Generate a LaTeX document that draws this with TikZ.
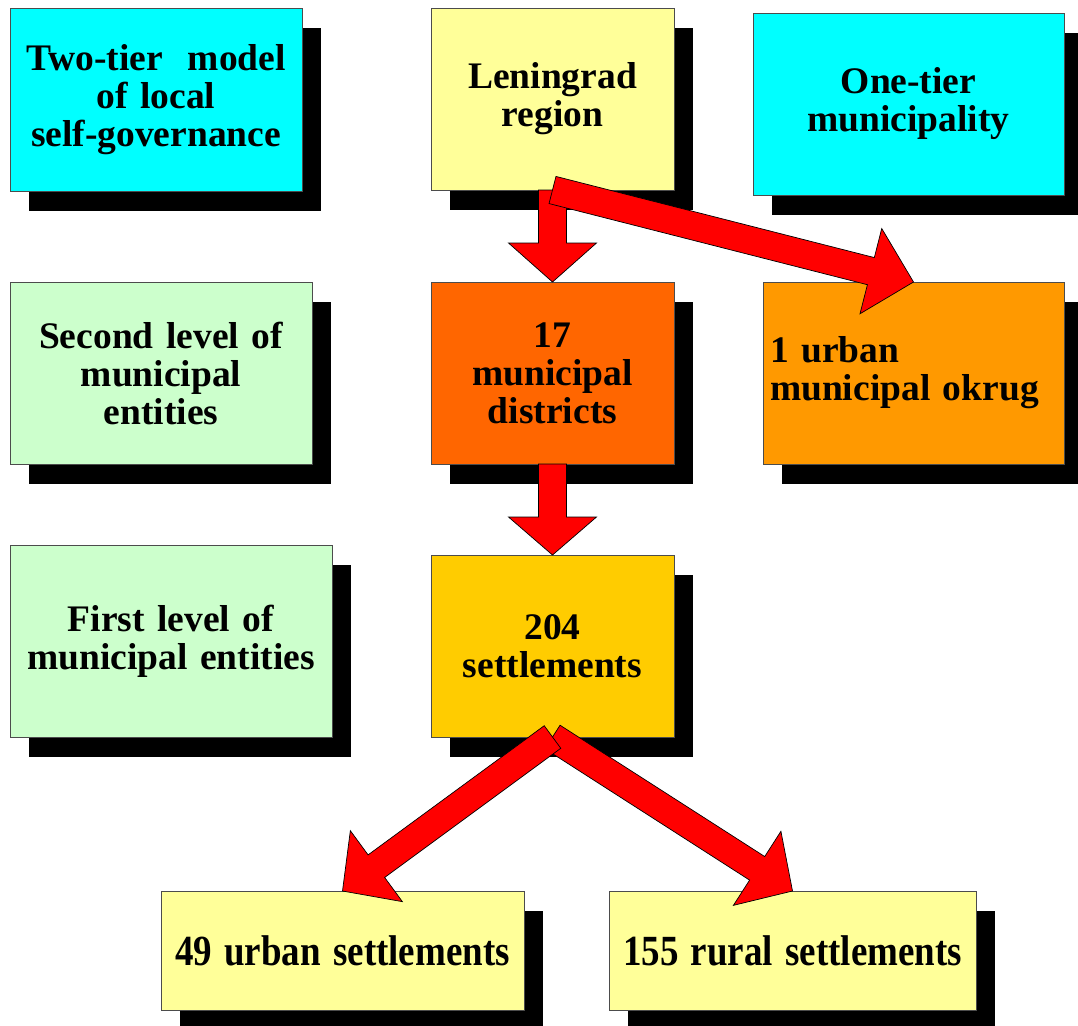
\documentclass[tikz,border=0pt]{standalone}
\usepackage{fontspec}
\setmainfont{Liberation Serif}
\usepackage{graphicx}
\usetikzlibrary{calc,shadows}

\definecolor{cyanbox}{HTML}{00FFFF}
\definecolor{paleyellow}{HTML}{FFFF99}
\definecolor{palegreen}{HTML}{CCFFCC}
\definecolor{darkorange}{HTML}{FF6600}
\definecolor{midorange}{HTML}{FF9900}
\definecolor{gold}{HTML}{FFCC00}
\definecolor{arrowred}{HTML}{FF0000}

\tikzset{
  panel/.style={draw=black!70, line width=0.8pt, fill=#1, outer sep=0pt,
    inner sep=7pt, align=center,
    font=\bfseries\fontsize{37.5}{38}\selectfont,
    drop shadow={shadow xshift=19pt, shadow yshift=-20pt, opacity=1, fill=black}},
  bigtext/.style={font=\bfseries\fontsize{43}{43}\selectfont},
  blockarr/.style={fill=arrowred, draw=black, line width=0.7pt, line join=miter},
}

% block arrow from #2 to #3, head length #1
\newcommand\blockarrow[3][44pt]{%
  \coordinate (hb) at ($(#3)!#1!(#2)$);
  \draw[blockarr] ($(#2)!14pt!90:(#3)$) -- ($(hb)!14pt!-90:(#2)$)
    -- ($(hb)!44pt!-90:(#2)$) -- (#3) -- ($(hb)!44pt!90:(#2)$)
    -- ($(hb)!14pt!90:(#2)$) -- ($(#2)!14pt!-90:(#3)$) -- cycle;
}

\begin{document}
\begin{tikzpicture}[x=1pt,y=-1pt]
\useasboundingbox (0,0) rectangle (1078,1025);
\clip (0,0) rectangle (1078,1025);

% top row
\node[panel=cyanbox, minimum width=292pt, minimum height=183pt, text width=278pt]
  (two) at (156,99.5) {Two-tier\ \ model\\of local\\self-governance};
\node[panel=paleyellow, minimum width=243pt, minimum height=182pt, text width=229pt]
  (len) at (552.5,99) {Leningrad\\region};
\node[panel=cyanbox, minimum width=311pt, minimum height=182pt, text width=297pt]
  (one) at (908.5,104) {One-tier\\municipality};

% second row
\node[panel=palegreen, minimum width=302pt, minimum height=182pt, text width=288pt]
  (sec) at (161,373) {Second level of\\municipal\\entities};
\node[panel=darkorange, minimum width=243pt, minimum height=182pt, text width=229pt]
  (dist) at (552.5,373) {17\\municipal\\districts};
\node[panel=midorange, minimum width=301pt, minimum height=182pt, text width=287pt, align=left]
  (okr) at (913.5,373) {1 urban\\municipal okrug};

% third row
\node[panel=palegreen, minimum width=322pt, minimum height=192pt, text width=308pt]
  (fir) at (171,641) {First level of\\municipal entities};
\node[panel=gold, minimum width=243pt, minimum height=182pt, text width=229pt]
  (sett) at (552.5,646) {204\\settlements};

% bottom row
\node[panel=paleyellow, bigtext, minimum width=363pt, minimum height=119pt, text width=349pt]
  (urb) at (342.5,950.5) {\scalebox{0.86}[1]{49 urban settlements}};
\node[panel=paleyellow, bigtext, minimum width=367pt, minimum height=119pt, text width=353pt]
  (rur) at (792.5,950.5) {\scalebox{0.86}[1]{155 rural settlements}};

% connectors
\blockarrow[39pt]{len.south}{dist.north}
\blockarrow{len.south}{okr.north}
\blockarrow[38pt]{dist.south}{sett.north}
\blockarrow[42pt]{sett.south}{rur.north}
\blockarrow[42pt]{sett.south}{urb.north}
\end{tikzpicture}
\end{document}
